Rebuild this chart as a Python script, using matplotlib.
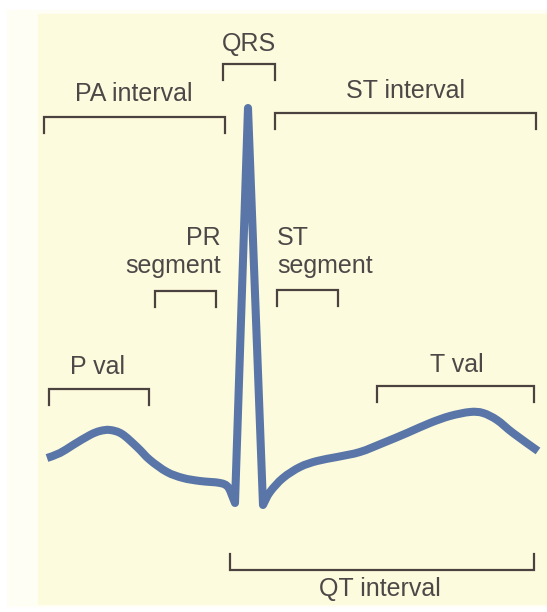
import numpy as np
import matplotlib.pyplot as plt
from matplotlib.patches import Rectangle, PathPatch
from matplotlib.path import Path

plt.rcParams['font.family'] = ['Liberation Sans', 'DejaVu Sans']

# ECG trace (pixel coordinates, y down)
# before the QRS complex (P wave, PR segment, down to Q)
pre_x = [47, 60, 73, 90, 100, 110, 122, 137, 150, 167, 183, 200, 220, 228, 233, 235]
pre_y = [458, 453, 445, 435, 431, 430, 434, 447, 460, 472, 478, 481, 483, 487, 498, 503]
# R peak
r_x, r_y = 248, 108
# after the QRS complex (S, ST segment, T wave)
post_x = [263, 270, 283, 300, 317, 337, 360, 383, 407, 430, 450, 470, 483, 497, 513, 538]
post_y = [505, 492, 478, 467, 461, 457, 452, 443, 433, 423, 416, 412, 413, 420, 433, 451]

# brackets: left, right, bar height, tick direction
br_names = ['QRS', 'PA interval', 'ST interval', 'PR segment', 'ST segment',
            'P val', 'T val', 'QT interval']
br_x0 = [223, 44, 275, 155, 277, 49, 377, 230]
br_x1 = [275, 225, 536, 216, 338, 149, 534, 534]
br_y = [64, 117, 113, 291, 290, 389, 386, 570]
br_dir = [1, 1, 1, 1, 1, 1, 1, -1]


def smooth_codes(xs, ys):
    # Catmull-Rom through the read points, drawn as cubic Bezier pieces
    p = np.column_stack([xs, ys]).astype(float)
    verts, codes = [], []
    for i in range(len(p) - 1):
        p0 = p[max(i - 1, 0)]
        p1, p2 = p[i], p[i + 1]
        p3 = p[min(i + 2, len(p) - 1)]
        verts += [p1 + (p2 - p0) / 6, p2 - (p3 - p1) / 6, p2]
        codes += [Path.CURVE4] * 3
    return verts, codes


fig = plt.figure(figsize=(5.47, 6.12), dpi=100)
ax = fig.add_axes([0, 0, 1, 1])
ax.set_xlim(0, 547)
ax.set_ylim(612, 0)
ax.axis('off')

# page background
ax.add_patch(Rectangle((7, 10), 540, 596, color='#fffef4', zorder=0))
ax.add_patch(Rectangle((38, 14), 509, 590, color='#fdfbdd', zorder=0))

ink = '#4a423f'
txt = '#4d4847'
for x0, x1, y, d in zip(br_x0, br_x1, br_y, br_dir):
    t = 16 * d
    ax.plot([x0, x0, x1, x1], [y + t, y, y, y + t], color=ink, lw=1.6,
            solid_joinstyle='miter', zorder=2)

fs = 18
ax.text(249, 44, 'QRS', ha='center', va='center', fontsize=fs, color=txt)
ax.text(134, 94, 'PA interval', ha='center', va='center', fontsize=fs, color=txt)
ax.text(405, 91, 'ST interval', ha='center', va='center', fontsize=fs, color=txt)
ax.text(221, 238, 'PR', ha='right', va='center', fontsize=fs, color=txt)
ax.text(221, 266, 'segment', ha='right', va='center', fontsize=fs, color=txt)
ax.text(277, 238, 'ST', ha='left', va='center', fontsize=fs, color=txt)
ax.text(277, 266, 'segment', ha='left', va='center', fontsize=fs, color=txt)
ax.text(98, 367, 'P val', ha='center', va='center', fontsize=fs, color=txt)
ax.text(457, 365, 'T val', ha='center', va='center', fontsize=fs, color=txt)
ax.text(380, 589, 'QT interval', ha='center', va='center', fontsize=fs, color=txt)

verts = [(pre_x[0], pre_y[0])]
codes = [Path.MOVETO]
v, c = smooth_codes(pre_x, pre_y)
verts += v
codes += c
verts += [(r_x, r_y), (post_x[0], post_y[0])]
codes += [Path.LINETO, Path.LINETO]
v, c = smooth_codes(post_x, post_y)
verts += v
codes += c
ecg = PathPatch(Path(verts, codes), fill=False, edgecolor='#5a76a8', lw=5.8,
                joinstyle='round', capstyle='butt', zorder=3)
ax.add_patch(ecg)

plt.savefig('out.png', dpi=100)
